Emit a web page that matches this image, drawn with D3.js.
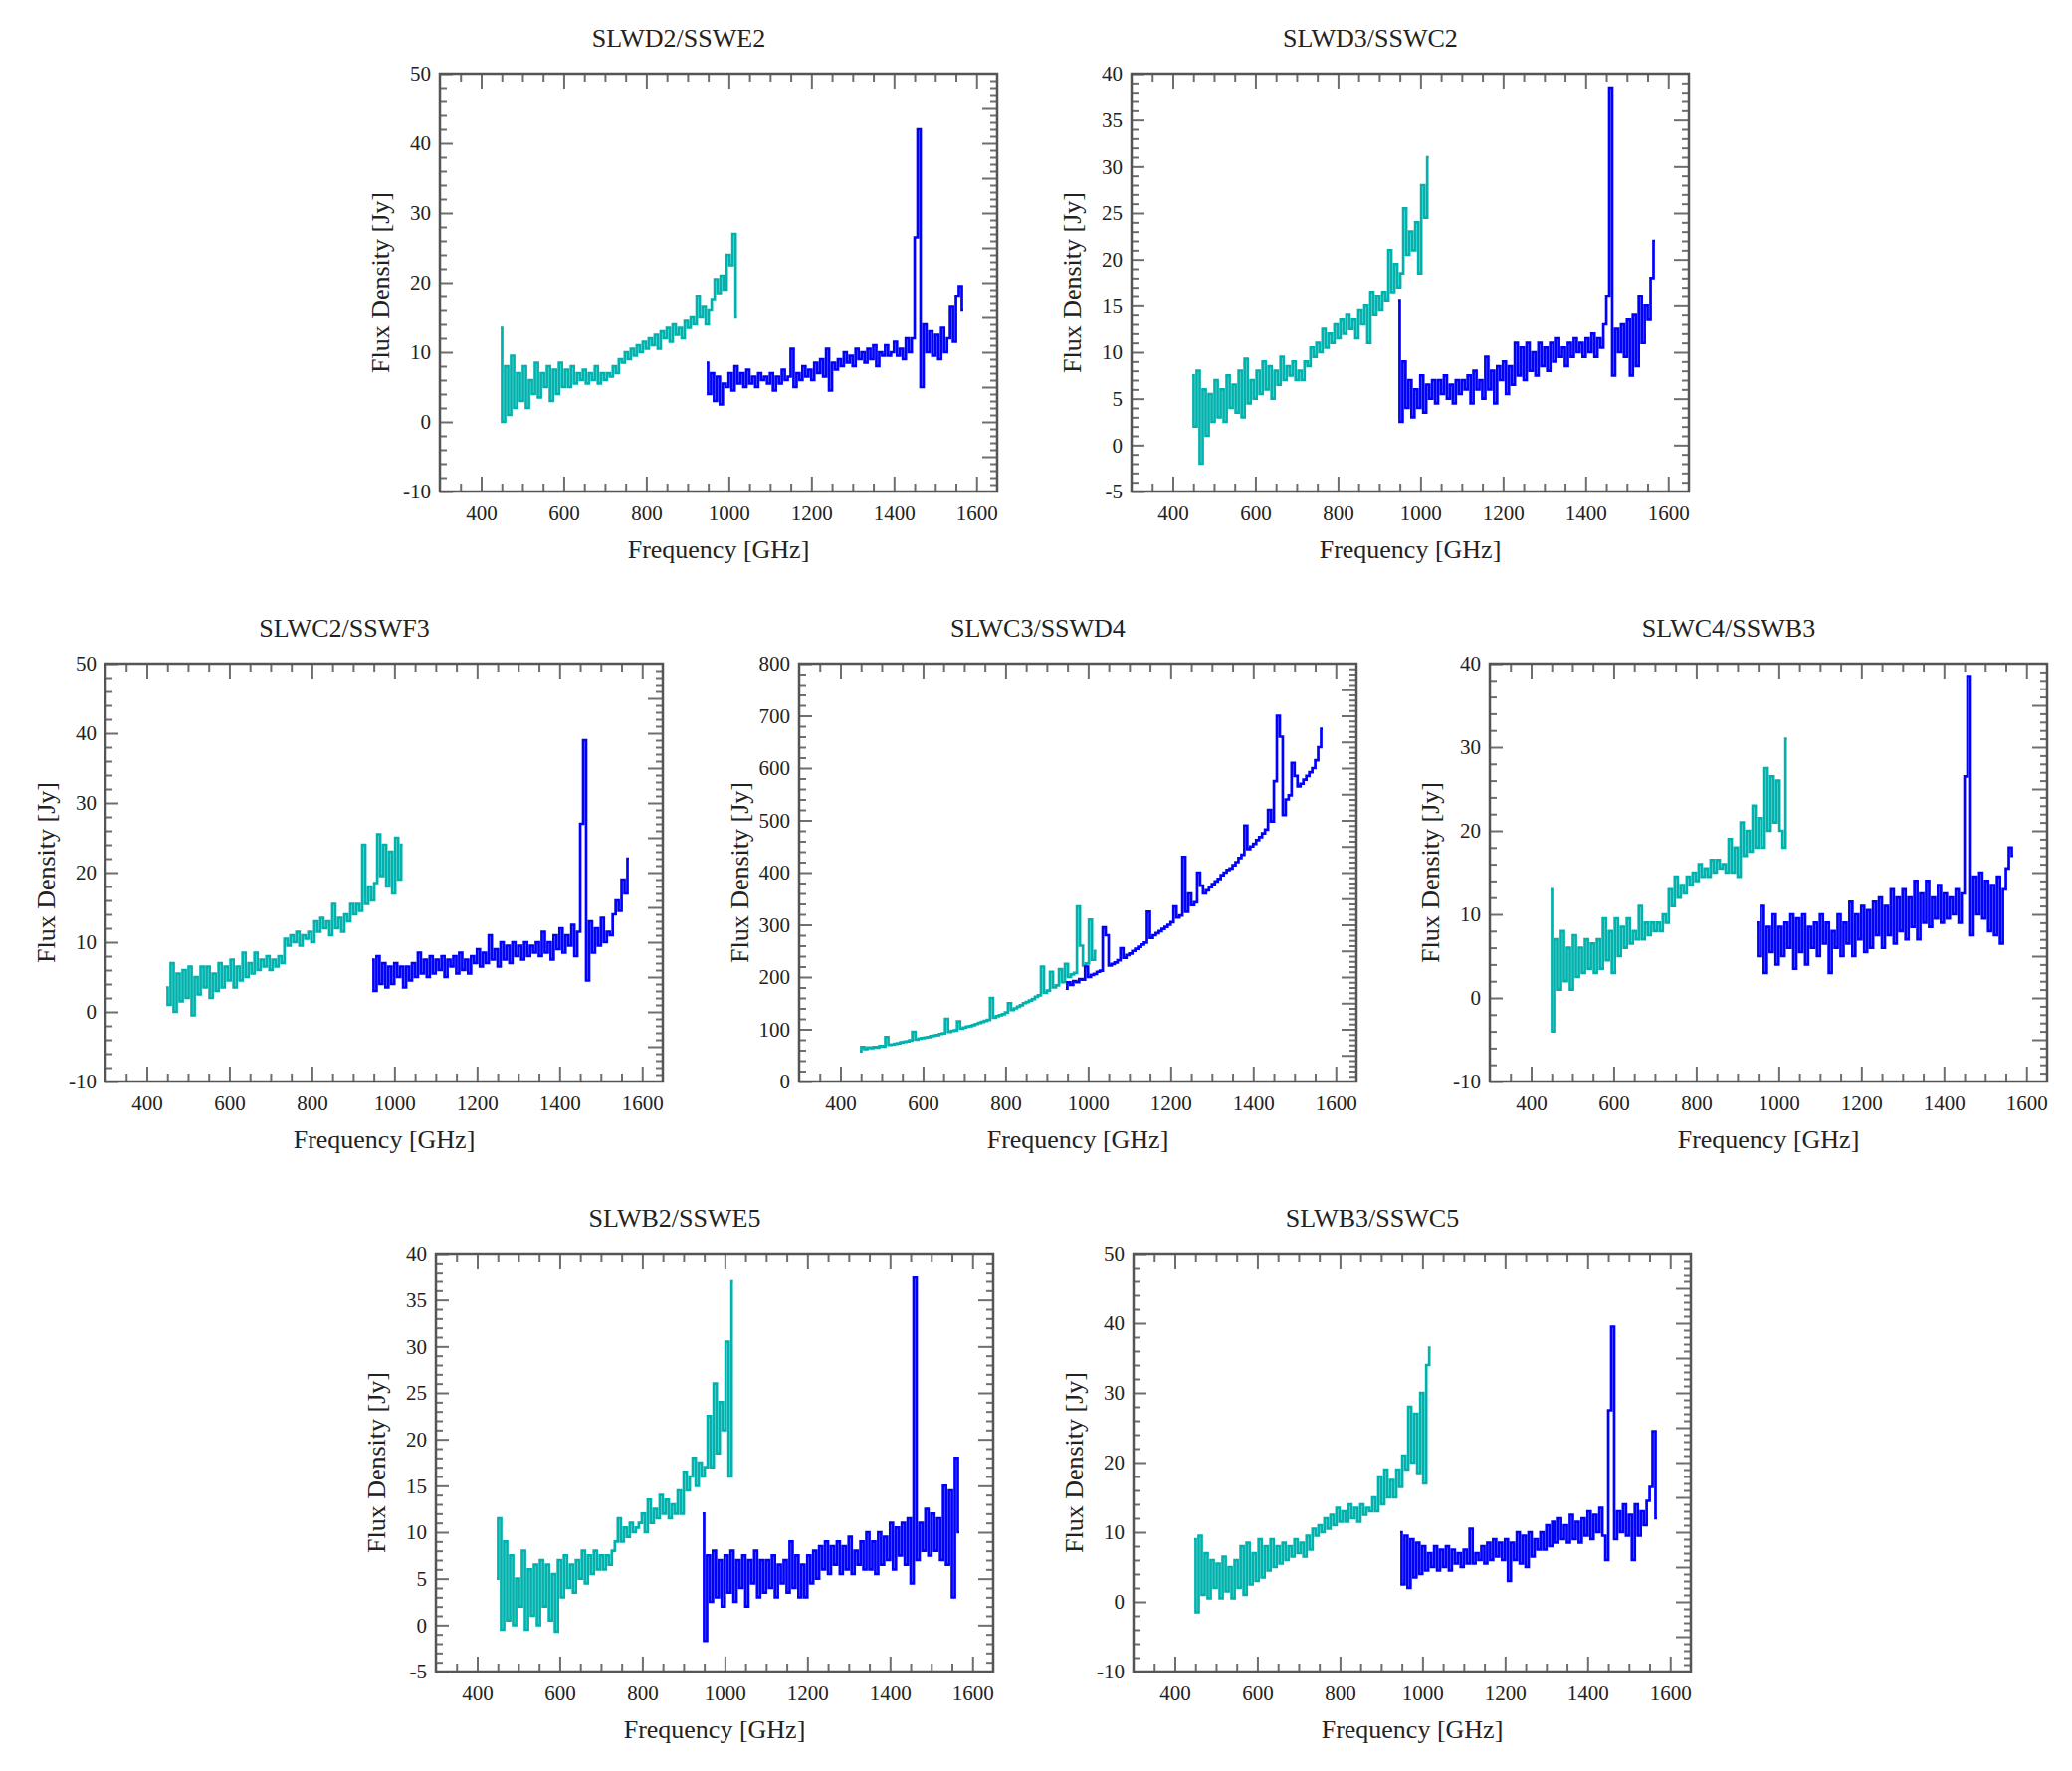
<!DOCTYPE html>
<html>
<head>
<meta charset="utf-8">
<script src="https://cdn.jsdelivr.net/npm/d3@7"></script>
<style>
  body { margin: 0; background: #fff; }
  text { font-family: "Liberation Serif", "DejaVu Serif", serif; fill: #222; }
</style>
</head>
<body>
<svg id="chart" width="2082" height="1780"></svg>
<script>
// frequency grids of the two detector arrays (GHz)
const slwFreq = d3.range(80).map((i) => 447 + i * (1020 - 447) / 79);
const sswFreq = d3.range(88).map((i) => 946 + i * (1568 - 946) / 87);

// SLWD2 / SSWE2
const slwD2 = [13.5, 0, 8, 1, 9.5, 2, 7, 3,
  8, 2, 6, 4, 8.5, 3.5, 7, 5,
  8, 3, 7.5, 4, 8.5, 5,
  7.5, 5, 8, 5.5, 7, 6, 7.5, 5.5, 7, 6, 8, 5.5, 7, 6,
  7, 6.5, 8, 7, 9,
  8.5, 10, 9, 10.5, 9.5, 11, 10, 11.5, 10.5, 12,
  11, 12.5, 10.5, 13, 12, 13.5, 11.5, 14, 12.5, 13.5,
  12, 14.5, 13.5, 15, 14,
  18, 15, 16.5, 14, 16,
  17.5, 20.5, 18.5, 21, 19,
  24, 22.5, 27, 15];
const sswE2 = [8.5, 4, 7, 3, 6.5, 2.5, 5.5,
  5, 7, 4.5, 8, 5.5, 7, 5,
  7.5, 5.5, 6.5, 5, 7, 6, 6.5,
  5.5, 7, 4.5, 6.5, 5.5, 7.5, 6,
  6.5, 10.5, 5, 7, 6, 8, 6.5,
  7.5, 6, 8.5, 7, 9, 6.5, 10.5,
  4.5, 8.5, 7.5, 9, 8, 10, 8.5,
  9.5, 8, 10.5, 9, 10, 8.5, 10.5,
  9, 11, 8, 10, 9.5, 11, 9.5,
  10, 11.5, 9.5, 10.5, 9, 12, 10,
  12, 26.5, 42, 5, 14,
  10, 13, 9.5,
  12.5, 9, 13.5, 10, 12, 16.5, 11.5,
  18, 19.5, 16];

// SLWD3 / SSWC2
const slwD3 = [7.5, 2, 8, -2, 6, 1, 5.5, 2.5,
  7, 3, 6, 2.5, 7.5, 4, 6.5, 3.5,
  8, 3, 9.3, 4.5, 7, 5,
  8, 5.5, 9, 6, 8.5, 5, 8, 6.5, 9.5, 7, 8.5, 7.5, 9, 7,
  8, 7, 9, 8.5, 10.5,
  9.5, 11, 10, 12.5, 10.5, 12, 11, 13, 11.5, 13.5,
  12, 14, 12.5, 13.5, 11.5, 14.5, 13, 15, 11, 16.5,
  14, 16, 14.5, 16.5, 15.5,
  21, 16.5, 19.5, 17, 18.5,
  25.5, 20.5, 23, 21, 24,
  18.5, 28, 24.5, 31];
const sswC2 = [15.5, 2.5, 9, 4, 7, 3, 6,
  4, 7.5, 3.5, 6.5, 5, 7, 4.5,
  7, 5.5, 7.5, 5, 6.5, 4.5, 7,
  5.5, 7, 6, 7.5, 4.5, 8, 6,
  7, 5, 9.5, 6, 8, 4.5, 8.5,
  7, 9, 5.5, 8.5, 6.5, 11, 7.5,
  10.5, 7, 11, 8, 10, 7.5, 11,
  8.5, 10.5, 8, 11, 9, 11.5, 9.5,
  10.5, 8.5, 11, 9.5, 11.5, 10, 11,
  9.5, 11.5, 10, 12, 9.5, 11.5, 10.5,
  13, 16, 38.5, 7.5, 12.5,
  10, 13, 9.5,
  13.5, 7.5, 14, 8.5, 16, 11, 15,
  13.5, 18, 22];

// SLWC2 / SSWF3
const slwC2 = [3.5, 1, 7, 0, 5.5, 1.5, 6, 2,
  6.5, -0.5, 5, 2.5, 6.5, 3.5, 6.5, 2,
  5.5, 3, 7, 3.5, 6.5, 4.5,
  7.5, 3.5, 6.5, 4.5, 8.5, 5, 7, 5.5, 8.5, 6, 7.5, 6.5, 8, 6,
  7.5, 6.5, 8, 7, 10.5,
  9.5, 11, 10, 11.5, 9.5, 11, 10.5, 11.5, 10, 13,
  11.5, 13.5, 12, 13, 11, 15.5, 12, 13.5, 11.5, 14,
  13, 15.5, 14, 15.5, 14.5,
  24, 15.5, 18, 16, 18.5,
  25.5, 19.5, 24, 18, 23,
  17, 25, 19, 24];
const sswF3 = [7.5, 3, 8, 4, 7, 3.5, 6.5,
  4, 7, 5, 6.5, 3.5, 6.5, 4.5,
  7, 5, 8.5, 5.5, 7.5, 5, 8,
  5.5, 7.5, 6, 8, 5, 7.5, 6.5,
  8, 5.5, 8.5, 6, 7.5, 5.5, 8,
  7, 9, 6.5, 8.5, 7, 11, 7.5,
  9, 6.5, 10, 7.5, 9.5, 7, 10,
  8, 9.5, 7.5, 10, 8, 9.5, 8.5,
  10, 8, 11.5, 8.5, 10, 7.5, 11,
  9, 12, 8.5, 11, 9.5, 12.5, 8,
  11.5, 27, 39, 4.5, 13,
  8.5, 12, 9.5,
  13.5, 10, 11.5, 11, 14, 16, 14.5,
  19, 17, 22];

// SLWC3 / SSWD4
const slwC3 = [58, 66, 62, 65, 64, 66, 65, 68, 67, 85,
  70, 71, 72, 73, 75, 76, 77, 79, 95, 80,
  82, 83, 84, 85, 87, 88, 89, 91, 92, 120,
  95, 97, 98, 115, 101, 103, 105, 106, 108, 110,
  112, 114, 116, 118, 160, 122, 125, 127, 129, 132,
  150, 137, 140, 143, 146, 150, 152, 155, 158, 162,
  165, 220, 170, 174, 210, 180, 184, 215, 190, 225,
  200, 205, 208, 335, 260, 222, 226, 310, 233, 250];
const sswD4 = [178, 190, 185, 192, 190, 196, 195, 220, 200, 204,
  206, 210, 212, 295, 280, 222, 225, 228, 232, 255,
  237, 242, 245, 250, 254, 258, 262, 266, 325, 275,
  280, 284, 288, 292, 296, 300, 305, 335, 314, 318,
  430, 325, 360, 338, 343, 400, 375, 360, 366, 372,
  378, 383, 388, 395, 400, 405, 408, 414, 420, 428,
  434, 490, 445, 450, 455, 462, 468, 475, 482, 520,
  498, 575, 700, 660, 510, 540, 548, 610, 585, 565,
  570, 578, 585, 592, 600, 615, 640, 675];

// SLWC4 / SSWB3
const slwC4 = [13, -4, 7, 1, 8, 2, 6, 1,
  7.5, 2.5, 6, 3, 7, 3.5, 6.5, 3,
  7, 3.5, 9.5, 4.5, 8, 3,
  9.5, 5, 8.5, 6, 9.5, 6.5, 8, 7, 11, 7, 9, 7.5, 9, 8,
  9, 8, 10, 9, 13,
  11, 14.5, 12, 13.5, 12.5, 14.5, 13.5, 15, 14, 16,
  14.5, 15.5, 14.5, 16.5, 15, 16.5, 15.5, 16, 15, 19,
  15, 18, 14.5, 21, 17,
  20, 17.5, 23, 18, 21.5,
  18, 27.5, 20, 26.5, 21,
  26, 20, 18, 31];
const sswB3 = [9, 5, 11, 3, 8.5, 5.5, 10,
  4, 8.5, 5, 9, 6, 10, 3.5,
  9.5, 5.5, 10, 4, 8.5, 6, 9,
  5, 10, 6.5, 9, 3, 8, 6,
  10, 5, 9, 6.5, 11.5, 5, 10,
  7, 11, 5.5, 10.5, 6, 11.5, 7.5,
  12, 6, 11, 7.5, 13, 6.5, 12,
  8, 13, 7, 12, 8.5, 14, 7,
  12.5, 9, 14, 8.5, 12, 9.5, 13.5,
  9, 12.5, 9.5, 12, 10, 13, 9,
  12.5, 26.5, 38.5, 7.5, 14.5,
  10, 15, 9.5,
  14, 8, 13.5, 7.5, 14.5, 6.5, 13,
  15.5, 18, 17];

// SLWB2 / SSWE5
const slwB2 = [5, 11.5, -0.5, 9, 0.5, 7.5, 0, 5,
  2, 8, -0.5, 6, 1, 6.5, 0, 7,
  2, 6.5, 0.5, 5.5, -0.7, 7,
  3, 7.5, 4, 6.5, 3.5, 7, 5, 8, 4.5, 7.5, 5.5, 8, 6, 7.5,
  6, 7.5, 6.5, 8, 9,
  11.5, 9, 10.5, 9.5, 11, 10, 10.5, 11, 12, 10,
  13.5, 11, 12.5, 11.5, 14, 12, 13.5, 11.5, 13, 12,
  14.5, 12, 16.5, 14.5, 16,
  18, 15, 17.5, 16, 17,
  22.5, 17, 26, 18.5, 24,
  21, 30.5, 16, 37];
const sswE5 = [12, -1.7, 7.5, 2.5, 8, 3, 7,
  2, 7.5, 3.5, 8, 2.5, 7, 4,
  7.5, 2, 7, 4.5, 8, 3, 7,
  3.5, 7, 4, 7.5, 3, 6.5, 4.5,
  7, 3.5, 9, 4, 7.5, 3, 6.5,
  3, 7.5, 4.5, 8, 5, 8.5, 6,
  9, 5.5, 8.5, 6.5, 9, 5.5, 8.5,
  6, 9.5, 5.5, 8, 6.5, 9, 6,
  10, 6, 9, 5.5, 10, 6.5, 9.5,
  7, 11, 6, 10.5, 7.5, 11, 6.5,
  11.5, 4.5, 37.5, 7, 11,
  8, 12.5, 7.5,
  12, 8, 11.5, 7, 15, 6.5, 14.5,
  3, 18, 10];

// SLWB3 / SSWC5
const slwB3 = [9, -1.5, 9.5, 1, 7, 0.5, 6, 2,
  5.5, 0.5, 6.5, 1.5, 5, 0.5, 6, 2,
  8, 1, 8.5, 2.5, 7, 3,
  9, 3.5, 8, 4.5, 9, 5, 8, 5.5, 8.5, 6, 8, 6.5, 9, 7,
  8.5, 6.5, 9.5, 7.5, 10.5,
  9.5, 11, 10, 12, 10.5, 12.5, 11, 13.5, 11.5, 13,
  11.5, 14, 12, 13.5, 11.5, 14, 12.5, 13.5, 13, 15,
  13, 18, 14, 19, 15,
  17.5, 15, 19, 16.5, 21,
  19, 28, 20, 27, 18.5,
  30, 17, 34, 36.5];
const sswC5 = [10, 2.5, 9.5, 2, 9, 3.5, 8.5,
  4, 8, 4.5, 7, 5, 8, 4.5,
  7.5, 5, 8, 4.5, 7.5, 5.5, 7,
  5, 7.5, 5.5, 10.5, 5.5, 7, 6,
  8, 5.5, 8.5, 6, 9, 6.5, 8.5,
  6, 9, 3, 8.5, 6, 10, 5.5,
  9.5, 5, 10, 6.5, 9, 7.5, 10,
  7.5, 11, 8, 11.5, 8.5, 12, 9,
  11, 8.5, 12.5, 9, 11.5, 8.5, 12,
  9.5, 13, 9, 12.5, 10, 13.5, 9.5,
  6, 27.5, 39.5, 9, 13,
  10, 14, 9.5,
  12.5, 6, 14, 9.5, 13, 11, 14.5,
  16.5, 24.5, 12];

const titles = ['SLWD2/SSWE2', 'SLWD3/SSWC2', 'SLWC2/SSWF3', 'SLWC3/SSWD4',
  'SLWC4/SSWB3', 'SLWB2/SSWE5', 'SLWB3/SSWC5'];
const slwSeries = [slwD2, slwD3, slwC2, slwC3, slwC4, slwB2, slwB3];
const sswSeries = [sswE2, sswC2, sswF3, sswD4, sswB3, sswE5, sswC5];
const yDomains = [[-10, 50], [-5, 40], [-10, 50], [0, 800], [-10, 40], [-5, 40], [-10, 50]];
// [left major, left minor, right major, right minor]
const yTickSteps = [[10, 2, 5, 1], [5, 1, 5, 1], [10, 2, 5, 1], [100, 20, 50, 10],
  [10, 2, 5, 1], [5, 1, 5, 1], [10, 2, 5, 1]];
const xMajorTicks = [400, 600, 800, 1000, 1200, 1400, 1600];

// plot-box positions on the page
const boxes = [[442, 74], [1137, 74], [106, 667], [803, 667], [1497, 667], [438, 1260], [1139, 1260]];
const boxW = 560;
const boxH = 420;

const colors = { slw: '#00b2ad', ssw: '#0000ff' };

const svg = d3.select('#chart');
svg.append('rect').attr('width', 2082).attr('height', 1780).attr('fill', '#fff');

const stepRange = (lo, hi, step) => d3.range(Math.ceil(lo / step) * step, hi + step * 0.001, step);

titles.forEach((title, p) => {
  const [bx, by] = boxes[p];
  const g = svg.append('g').attr('transform', `translate(${bx},${by})`);

  const x = d3.scaleLinear().domain([300, 1650]).range([0, boxW]);
  const y = d3.scaleLinear().domain(yDomains[p]).range([boxH, 0]);

  const xMinor = stepRange(300, 1650, 50).filter((v) => v > 300 && v < 1650 && !xMajorTicks.includes(v));
  const [lMaj, lMin, rMaj, rMin] = yTickSteps[p];
  const [y0, y1] = yDomains[p];
  const lMajor = stepRange(y0, y1, lMaj);
  const lMinor = stepRange(y0, y1, lMin).filter((v) => v > y0 && v < y1 && !lMajor.includes(v));
  const rMajor = stepRange(y0, y1, rMaj).filter((v) => v > y0 && v < y1);
  const rMinor = stepRange(y0, y1, rMin).filter((v) => v > y0 && v < y1 && !rMajor.includes(v));

  // spectra, drawn as histogram steps
  const line = (freq) => d3.line()
    .curve(d3.curveStep)
    .x((d, i) => x(freq[i]))
    .y((d) => y(d));

  g.append('path')
    .datum(slwSeries[p])
    .attr('fill', 'none')
    .attr('stroke', colors.slw)
    .attr('stroke-width', 2.7)
    .attr('d', line(slwFreq));

  g.append('path')
    .datum(sswSeries[p])
    .attr('fill', 'none')
    .attr('stroke', colors.ssw)
    .attr('stroke-width', 2.7)
    .attr('d', line(sswFreq));

  const styleAxis = (sel) => {
    sel.select('.domain').remove();
    sel.selectAll('.tick line').attr('stroke', '#6e6e6e').attr('stroke-width', 2);
    sel.selectAll('.tick text').style('font-size', '21px').attr('fill', '#222');
  };

  // bottom axis
  g.append('g').attr('transform', `translate(0,${boxH})`)
    .call(d3.axisBottom(x).tickValues(xMajorTicks).tickSize(-15).tickPadding(14).tickFormat((d) => String(d)))
    .call(styleAxis);
  g.append('g').attr('transform', `translate(0,${boxH})`)
    .call(d3.axisBottom(x).tickValues(xMinor).tickSize(-8).tickFormat(''))
    .call(styleAxis);

  // top axis
  g.append('g')
    .call(d3.axisTop(x).tickValues(xMajorTicks).tickSize(-15).tickFormat(''))
    .call(styleAxis);
  g.append('g')
    .call(d3.axisTop(x).tickValues(xMinor).tickSize(-8).tickFormat(''))
    .call(styleAxis);

  // left axis
  g.append('g')
    .call(d3.axisLeft(y).tickValues(lMajor).tickSize(-13).tickPadding(9).tickFormat((d) => String(d)))
    .call(styleAxis);
  g.append('g')
    .call(d3.axisLeft(y).tickValues(lMinor).tickSize(-7).tickFormat(''))
    .call(styleAxis);

  // right axis
  g.append('g').attr('transform', `translate(${boxW},0)`)
    .call(d3.axisRight(y).tickValues(rMajor).tickSize(-15).tickFormat(''))
    .call(styleAxis);
  g.append('g').attr('transform', `translate(${boxW},0)`)
    .call(d3.axisRight(y).tickValues(rMinor).tickSize(-7).tickFormat(''))
    .call(styleAxis);

  // frame
  g.append('rect')
    .attr('width', boxW)
    .attr('height', boxH)
    .attr('fill', 'none')
    .attr('stroke', '#555')
    .attr('stroke-width', 2.5);

  // labels
  g.append('text')
    .attr('x', boxW / 2 - 40)
    .attr('y', -36)
    .attr('dy', '0.35em')
    .attr('text-anchor', 'middle')
    .style('font-size', '26px')
    .text(title);

  g.append('text')
    .attr('x', boxW / 2)
    .attr('y', boxH + 58)
    .attr('dy', '0.35em')
    .attr('text-anchor', 'middle')
    .style('font-size', '26px')
    .text('Frequency [GHz]');

  g.append('text')
    .attr('transform', `translate(-60,${boxH / 2}) rotate(-90)`)
    .attr('dy', '0.35em')
    .attr('text-anchor', 'middle')
    .style('font-size', '26px')
    .text('Flux Density [Jy]');
});
</script>
</body>
</html>
